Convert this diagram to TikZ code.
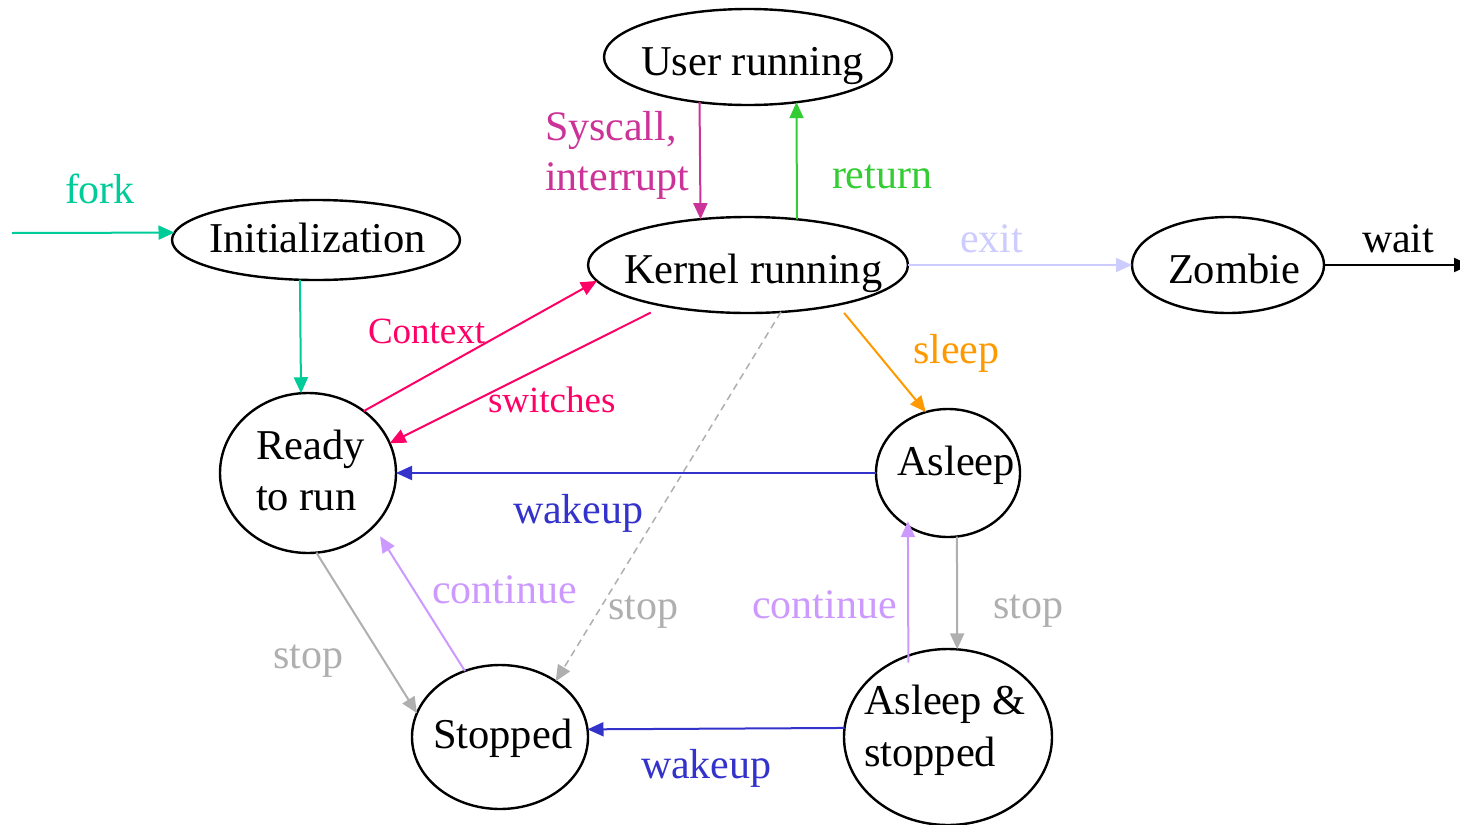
\documentclass[tikz,border=0pt]{standalone}
\usepackage{fontspec}
\setmainfont{Liberation Serif}
\usetikzlibrary{arrows.meta,shapes.geometric}
\definecolor{cfork}{RGB}{0,204,153}
\definecolor{csys}{RGB}{204,51,153}
\definecolor{cret}{RGB}{51,204,51}
\definecolor{cexit}{RGB}{204,204,255}
\definecolor{cctx}{RGB}{255,0,102}
\definecolor{csleep}{RGB}{255,153,0}
\definecolor{cwake}{RGB}{51,51,204}
\definecolor{cstop}{RGB}{175,175,175}
\definecolor{ccont}{RGB}{204,153,255}
\begin{document}
\begin{tikzpicture}[x=1pt,y=-1pt,
  st/.style={draw=black, line width=2.4pt, ellipse, inner sep=0pt, outer sep=0pt},
  tx/.style={anchor=base west, inner sep=0pt, outer sep=0pt, font=\fontsize{42.5}{51}\selectfont, align=left},
  lb/.style={anchor=base west, inner sep=0pt, outer sep=0pt, font=\fontsize{42}{50}\selectfont, align=left},
  sm/.style={anchor=base west, inner sep=0pt, outer sep=0pt, font=\fontsize{37}{44}\selectfont},
  ar/.style={line width=2pt, -{Triangle[length=16pt,width=14pt]}},
]
\useasboundingbox (0,0) rectangle (1460,825);

% states
\node[st, minimum width=288pt, minimum height=96pt] (user) at (748,57) {};
\node[st, minimum width=320pt, minimum height=96pt] (kern) at (748,265) {};
\node[st, minimum width=288pt, minimum height=80pt] (init) at (316,240) {};
\node[st, minimum width=192pt, minimum height=96pt] (zomb) at (1228,265) {};
\node[st, minimum width=176pt, minimum height=160pt] (ready) at (308,473) {};
\node[st, minimum width=144pt, minimum height=128pt] (asleep) at (948,473) {};
\node[st, minimum width=176pt, minimum height=144pt] (stopped) at (500,737) {};
\node[st, minimum width=208pt, minimum height=176pt] (asst) at (948,737) {};

% state texts (multi-line texts anchored at the baseline of their last line)
\node[tx] (user-t) at (641,75) {User running};
\node[tx] (kern-t) at (624,283) {Kernel running};
\node[tx] (init-t) at (209,252) {Initialization};
\node[tx] (zomb-t) at (1168,283) {Zombie};
\node[tx] (ready-t) at (256,510) {Ready\\to run};
\node[tx] (asleep-t) at (897,475) {Asleep};
\node[tx] (stopped-t) at (433,748) {Stopped};
\node[tx, font=\fontsize{42.5}{52}\selectfont] (asst-t) at (864,766) {Asleep \&\\stopped};

% free ends
\coordinate (forkstart) at (12,233);
\coordinate (waitend) at (1470,265);

% connectors
\draw[ar, cfork] (forkstart) -- (init.177.2);
\draw[ar, cfork] (init.248.1) -- (ready.95.7);
\draw[ar, csys] (user.223.3) -- (kern.136.3);
\draw[ar, cret] (kern.43.7) -- (user.-43.3);
\draw[ar, cexit] (kern.east) -- (zomb.west);
\draw[ar, black] (zomb.east) -- (waitend);
\draw[ar, cctx] (ready.48.8) -- (kern.186.3);
\draw[ar, cctx, shorten <=15pt] (kern.206.6) -- (ready.20);
\draw[ar, csleep, shorten <=10.5pt] (kern.-24.1) -- (asleep.110.6);
\draw[ar, cwake] (asleep.west) -- (ready.east);
\draw[ar, cstop, line width=1.5pt, dash pattern=on 7pt off 5pt] (kern.-55.7) -- (stopped.45);
\draw[ar, cstop] (ready.-84.3) -- (stopped.164.7);
\draw[ar, ccont, shorten >=12pt] (stopped.118.7) -- (ready.-39.3);
\draw[ar, ccont, shorten <=-7pt, shorten >=-5pt] (asst.116.2) -- (asleep.233.1);
\draw[ar, cstop] (asleep.-82.8) -- (asst.84.8);
\draw[ar, cwake] (asst.175.6) -- (stopped.5.2);

% labels
\node[lb, text=cfork] (l-fork) at (65,203) {fork};
\node[lb, text=csys] (l-sys) at (545,190) {Syscall,\\interrupt};
\node[lb, text=cret] (l-ret) at (832,188) {return};
\node[lb, text=cexit] (l-exit) at (960,252) {exit};
\node[lb, text=black] (l-wait) at (1362,252) {wait};
\node[sm, text=cctx] (l-ctx) at (368,343) {Context};
\node[sm, text=cctx] (l-sw) at (488,412) {switches};
\node[lb, text=csleep] (l-sleep) at (913,363) {sleep};
\node[lb, text=cwake] (l-wake1) at (513,523) {wakeup};
\node[lb, text=cstop] (l-stop1) at (608,619) {stop};
\node[lb, text=ccont] (l-cont1) at (432,603) {continue};
\node[lb, text=cstop] (l-stop2) at (273,668) {stop};
\node[lb, text=ccont] (l-cont2) at (752,618) {continue};
\node[lb, text=cstop] (l-stop3) at (993,618) {stop};
\node[lb, text=cwake] (l-wake2) at (641,778) {wakeup};
\end{tikzpicture}
\end{document}
